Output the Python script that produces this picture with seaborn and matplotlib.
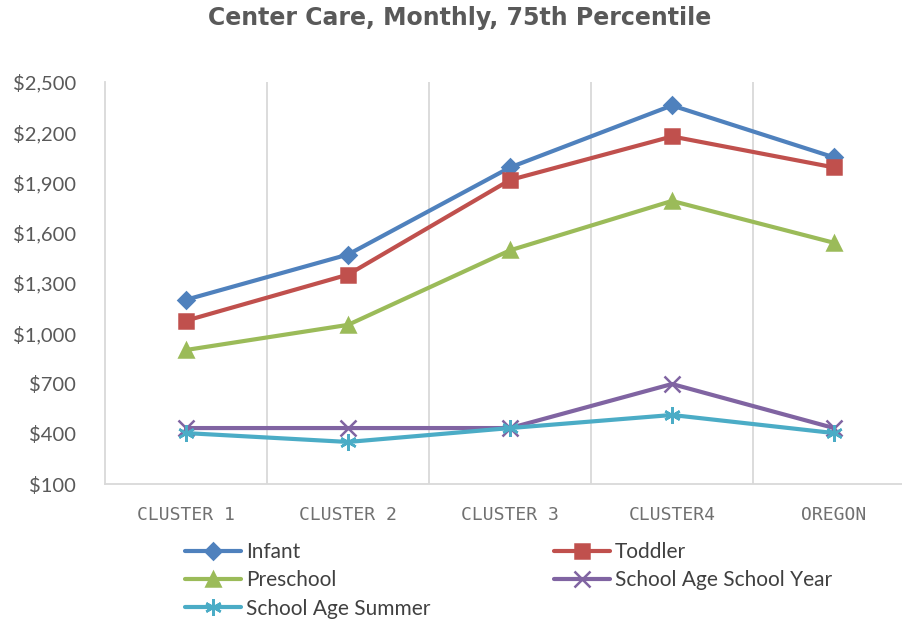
import numpy as np
import pandas as pd
import seaborn as sns
import matplotlib.pyplot as plt
from matplotlib.ticker import FuncFormatter, FixedLocator


# Values
regions = ["CLUSTER 1", "CLUSTER 2", "CLUSTER 3", "CLUSTER4", "OREGON"]
infant = [1200, 1470, 1990, 2360, 2050]
toddler = [1075, 1350, 1915, 2175, 1990]
preschool = [900, 1050, 1495, 1790, 1540]
school_year = [434, 434, 434, 697, 434]
school_summer = [404, 351, 434, 512, 404]

series_names = ["Infant", "Toddler", "Preschool", "School Age School Year", "School Age Summer"]
yticks = [100, 400, 700, 1000, 1300, 1600, 1900, 2200, 2500]

# long format table for seaborn
df = pd.DataFrame({
    "region": regions * 5,
    "pos": list(range(len(regions))) * 5,
    "cost": infant + toddler + preschool + school_year + school_summer,
    "series": np.repeat(series_names, len(regions)),
})

colors = {
    "Infant": "#4F81BD",
    "Toddler": "#C0504D",
    "Preschool": "#9BBB59",
    "School Age School Year": "#8064A2",
    "School Age Summer": "#4BACC6",
}
markers = {
    "Infant": "D",
    "Toddler": "s",
    "Preschool": "^",
    "School Age School Year": "x",
    "School Age Summer": (6, 2, 0),
}
msize = {"Infant": 8, "Toddler": 10, "Preschool": 10,
         "School Age School Year": 11, "School Age Summer": 12}

sns.set_style("white")
plt.rcParams["font.family"] = ["Lato", "DejaVu Sans"]

fig = plt.figure(figsize=(9.02, 6.25), dpi=100)
ax = fig.add_axes([105 / 902, 141 / 625, 810 / 902, 402 / 625])

# one call per series: seaborn won't mix filled and line markers in one style map
for name in series_names:
    sub = df[df["series"] == name]
    sns.lineplot(
        data=sub, x="pos", y="cost", color=colors[name], marker=markers[name],
        sort=False, linewidth=3, markersize=msize[name], markeredgewidth=1.8,
        markeredgecolor=colors[name], label=name, ax=ax, legend=False,
    )

ax.set_xlim(-0.5, len(regions) - 0.5)
ax.set_ylim(100, 2500)
ax.set_xticks(range(len(regions)))
ax.set_xticklabels(regions)
ax.xaxis.set_minor_locator(FixedLocator(np.arange(0.5, len(regions), 1.0)))
ax.set_yticks(yticks)
ax.yaxis.set_major_formatter(FuncFormatter(lambda v, p: f"${v:,.0f}"))
ax.tick_params(axis="both", which="both", length=0, colors="#595959")
ax.tick_params(axis="y", labelsize=14.5, pad=21)
ax.tick_params(axis="x", labelsize=13, pad=16, colors="#707070")
for lab in ax.get_xticklabels():
    lab.set_fontfamily(["DejaVu Sans Mono"])
ax.grid(False)
ax.grid(True, which="minor", axis="x", color="#D9D9D9", linewidth=1.3)
ax.set_xlabel("")
ax.set_ylabel("")

for side in ["top", "right"]:
    ax.spines[side].set_visible(False)
for side in ["left", "bottom"]:
    ax.spines[side].set_color("#D9D9D9")
    ax.spines[side].set_linewidth(1.3)

# legend laid out row-wise in two columns
handles, labels = ax.get_legend_handles_labels()
lookup = dict(zip(labels, handles))
order = ["Infant", "Preschool", "School Age Summer", "Toddler", "School Age School Year"]
leg = fig.legend(
    [lookup[k] for k in order], order, ncol=2, loc="upper left",
    bbox_to_anchor=(185 / 902, 1 - 542 / 625), frameon=False,
    fontsize=15, handlelength=2.7, handletextpad=0.25, columnspacing=5.9,
    labelspacing=0.4, borderaxespad=0, borderpad=0,
)
for t in leg.get_texts():
    t.set_color("#404040")

fig.text(0.51, 1 - 18 / 625, "Center Care, Monthly, 75th Percentile",
         ha="center", va="center", fontsize=17, fontweight="bold", color="#595959",
         fontfamily=["DejaVu Sans"])

fig.savefig("out.png", dpi=100)
